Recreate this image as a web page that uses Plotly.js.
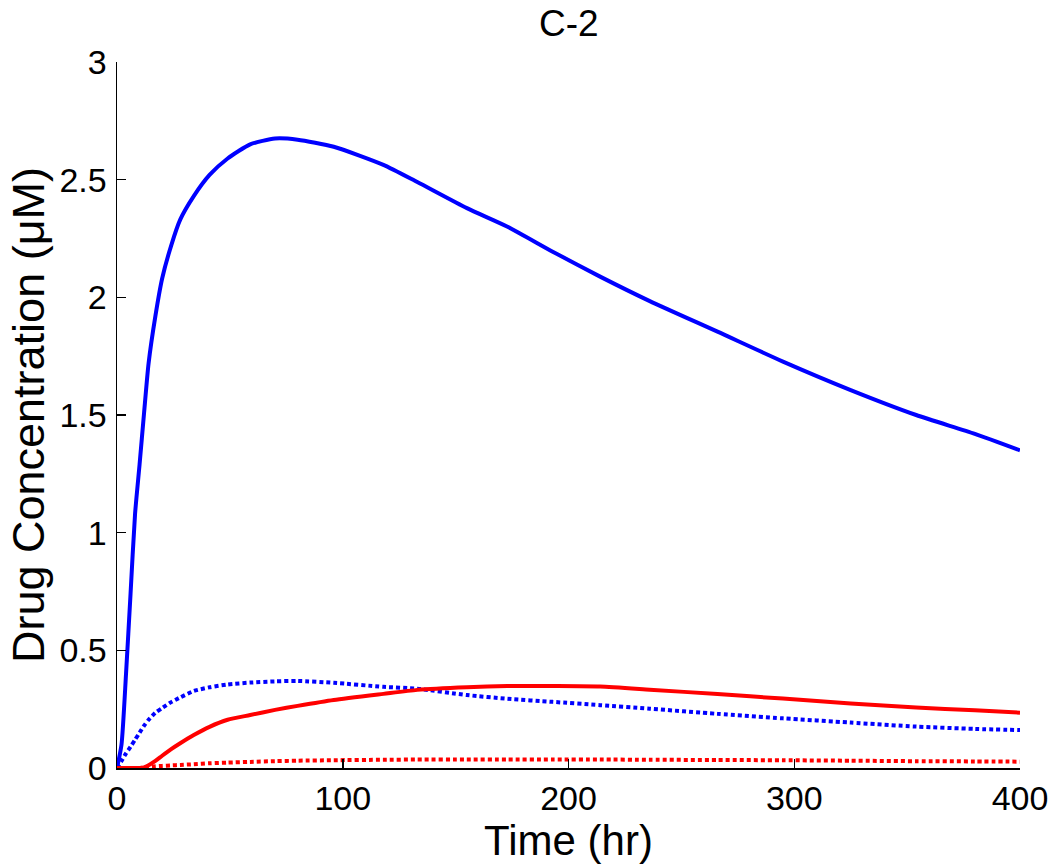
<!DOCTYPE html>
<html>
<head>
<meta charset="utf-8">
<script src="https://cdn.plot.ly/plotly-3.0.1.min.js"></script>
<style>html,body{margin:0;padding:0;background:#fff;}#chart{width:1050px;height:865px;}</style>
</head>
<body>
<div id="chart"></div>
<script>
var timeHr = [0, 2, 4, 6, 8, 10, 12, 14, 17, 20, 24, 28, 34, 41, 49, 59, 70, 80, 96, 118, 133, 155, 173, 193, 214, 236, 266, 295, 325, 354, 380, 400];
var blueSolid = [0, 0.1, 0.4, 0.74, 1.08, 1.29, 1.51, 1.72, 1.92, 2.08, 2.22, 2.33, 2.43, 2.52, 2.59, 2.65, 2.675, 2.67, 2.64, 2.563, 2.49, 2.379, 2.30, 2.194, 2.088, 1.984, 1.854, 1.727, 1.606, 1.50, 1.42, 1.35];
var blueDotted = [0, 0.03, 0.062, 0.09, 0.12, 0.15, 0.18, 0.205, 0.235, 0.255, 0.28, 0.30, 0.327, 0.343, 0.355, 0.363, 0.368, 0.37, 0.362, 0.345, 0.337, 0.31, 0.294, 0.281, 0.267, 0.252, 0.23, 0.211, 0.193, 0.176, 0.166, 0.161];
var redSolid = [0, 0, 0, 0, 0, 0, 0.003, 0.012, 0.03, 0.052, 0.08, 0.105, 0.14, 0.175, 0.205, 0.225, 0.247, 0.264, 0.289, 0.315, 0.332, 0.343, 0.348, 0.348, 0.346, 0.333, 0.314, 0.295, 0.274, 0.257, 0.245, 0.235];
var redDotted = [0, 0, 0, 0, 0, 0, 0.002, 0.004, 0.007, 0.009, 0.011, 0.013, 0.016, 0.02, 0.023, 0.026, 0.029, 0.031, 0.033, 0.035, 0.036, 0.036, 0.036, 0.036, 0.036, 0.035, 0.034, 0.033, 0.031, 0.029, 0.028, 0.027];
var xTicks = [0, 100, 200, 300, 400];
var yTicks = [0, 0.5, 1, 1.5, 2, 2.5, 3];
var yTickText = ['0', '0.5', '1', '1.5', '2', '2.5', '3'];

var font = 'Liberation Sans, Arial, Helvetica, sans-serif';
function tr(y, color, dash) {
  return {x: timeHr, y: y, type: 'scatter', mode: 'lines', hoverinfo: 'skip',
          line: {color: color, width: 4, dash: dash, shape: 'spline', smoothing: 0.6}};
}
var data = [
  tr(blueSolid, '#0000FF', 'solid'),
  tr(blueDotted, '#0000FF', '4px,3px'),
  tr(redSolid, '#FF0000', 'solid'),
  tr(redDotted, '#FF0000', '4px,3px')
];
var layout = {
  width: 1050, height: 865,
  margin: {l: 117, r: 30, t: 62, b: 97},
  paper_bgcolor: '#fff', plot_bgcolor: '#fff',
  showlegend: false,
  font: {family: font, color: '#000'},
  title: {text: 'C-2', font: {size: 37, family: font, color: '#000'}, x: 0.5417, xanchor: 'center', y: 0.988, yanchor: 'top'},
  xaxis: {
    range: [0, 400], tickvals: xTicks, ticktext: xTicks.map(String),
    ticks: 'inside', ticklen: 9, tickwidth: 1.5, tickcolor: '#000',
    showline: true, linecolor: '#000', linewidth: 1.5, showgrid: false, zeroline: false,
    tickfont: {size: 34, family: font, color: '#000'}, ticklabelstandoff: 0,
    title: {text: 'Time (hr)', font: {size: 42, family: font, color: '#000'}, standoff: 0}
  },
  yaxis: {
    range: [0, 3], tickvals: yTicks, ticktext: yTickText,
    ticks: 'inside', ticklen: 9, tickwidth: 1.5, tickcolor: '#000',
    showline: true, linecolor: '#000', linewidth: 1.5, showgrid: false, zeroline: false,
    tickfont: {size: 34, family: font, color: '#000'}, ticklabelstandoff: 2,
    title: {text: 'Drug Concentration (μM)', font: {size: 45, family: font, color: '#000'}, standoff: 0}
  }
};
Plotly.newPlot('chart', data, layout, {displayModeBar: false, staticPlot: true});
</script>
</body>
</html>
